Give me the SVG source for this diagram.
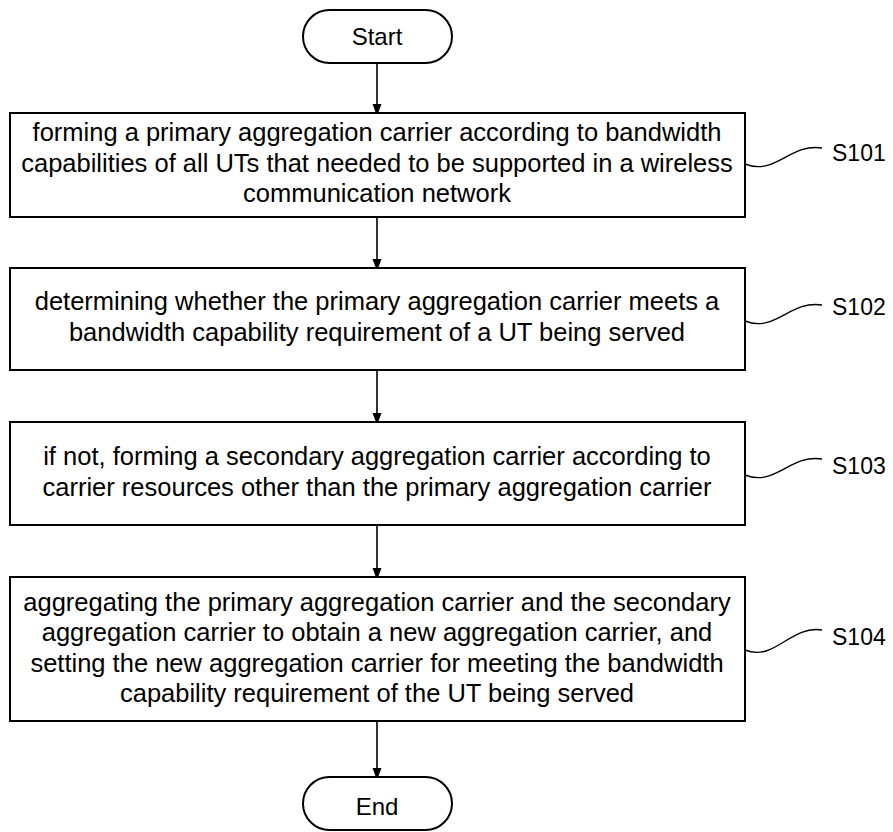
<svg xmlns="http://www.w3.org/2000/svg" width="893" height="832" viewBox="0 0 893 832">
<defs>
<marker id="ah" markerWidth="12" markerHeight="16" refX="12" refY="6" orient="auto" markerUnits="userSpaceOnUse" viewBox="0 0 16 12">
<path d="M0,0 L16,6 L0,12 Z" fill="#000"/>
</marker>
</defs>
<style>
.box{fill:#fff;stroke:#000;stroke-width:2}
.t{font-family:"Liberation Sans",Arial,sans-serif;font-size:25.5px;fill:#000;text-anchor:middle}
.term{font-family:"Liberation Sans",Arial,sans-serif;font-size:24px;fill:#000;text-anchor:middle}
.lbl{font-family:"Liberation Sans",Arial,sans-serif;font-size:23px;fill:#000}
.edge{stroke:#000;stroke-width:1.6;fill:none}
.wave{stroke:#000;stroke-width:1.4;fill:none}
</style>
<rect width="893" height="832" fill="#fff"/>
<g id="connectors">
<line class="edge" x1="377" y1="63" x2="377" y2="113" marker-end="url(#ah)"/>
<line class="edge" x1="377" y1="217" x2="377" y2="268" marker-end="url(#ah)"/>
<line class="edge" x1="377" y1="370" x2="377" y2="422" marker-end="url(#ah)"/>
<line class="edge" x1="377" y1="525" x2="377" y2="577" marker-end="url(#ah)"/>
<line class="edge" x1="377" y1="721" x2="377" y2="777" marker-end="url(#ah)"/>
<path class="wave" d="M745,164 C775,176 790,143 822,148"/>
<path class="wave" d="M745,321 C775,333 790,300 822,305"/>
<path class="wave" d="M745,475 C775,487 790,454 822,459"/>
<path class="wave" d="M745,650 C775,662 790,625 822,630"/>
</g>
<g id="start">
<rect class="box" x="303" y="10" width="149" height="53" rx="26.5"/>
<text class="term" x="377" y="45">Start</text>
</g>
<g id="s101">
<rect class="box" x="10" y="113" width="735" height="104"/>
<text class="t" x="377" y="141">forming a primary aggregation carrier according to bandwidth</text>
<text class="t" x="377" y="172">capabilities of all UTs that needed to be supported in a wireless</text>
<text class="t" x="377" y="202">communication network</text>
<text class="lbl" x="832" y="161">S101</text>
</g>
<g id="s102">
<rect class="box" x="10" y="268" width="735" height="102"/>
<text class="t" x="377" y="310">determining whether the primary aggregation carrier meets a</text>
<text class="t" x="377" y="341">bandwidth capability requirement of a UT being served</text>
<text class="lbl" x="832" y="315">S102</text>
</g>
<g id="s103">
<rect class="box" x="10" y="422" width="735" height="103"/>
<text class="t" x="377" y="465">if not, forming a secondary aggregation carrier according to</text>
<text class="t" x="377" y="496">carrier resources other than the primary aggregation carrier</text>
<text class="lbl" x="832" y="474">S103</text>
</g>
<g id="s104">
<rect class="box" x="10" y="577" width="735" height="144"/>
<text class="t" x="377" y="611">aggregating the primary aggregation carrier and the secondary</text>
<text class="t" x="377" y="641">aggregation carrier to obtain a new aggregation carrier, and</text>
<text class="t" x="377" y="672">setting the new aggregation carrier for meeting the bandwidth</text>
<text class="t" x="377" y="702">capability requirement of the UT being served</text>
<text class="lbl" x="832" y="645">S104</text>
</g>
<g id="end">
<rect class="box" x="303" y="777" width="149" height="53" rx="26.5"/>
<text class="term" x="377" y="815">End</text>
</g>
</svg>
